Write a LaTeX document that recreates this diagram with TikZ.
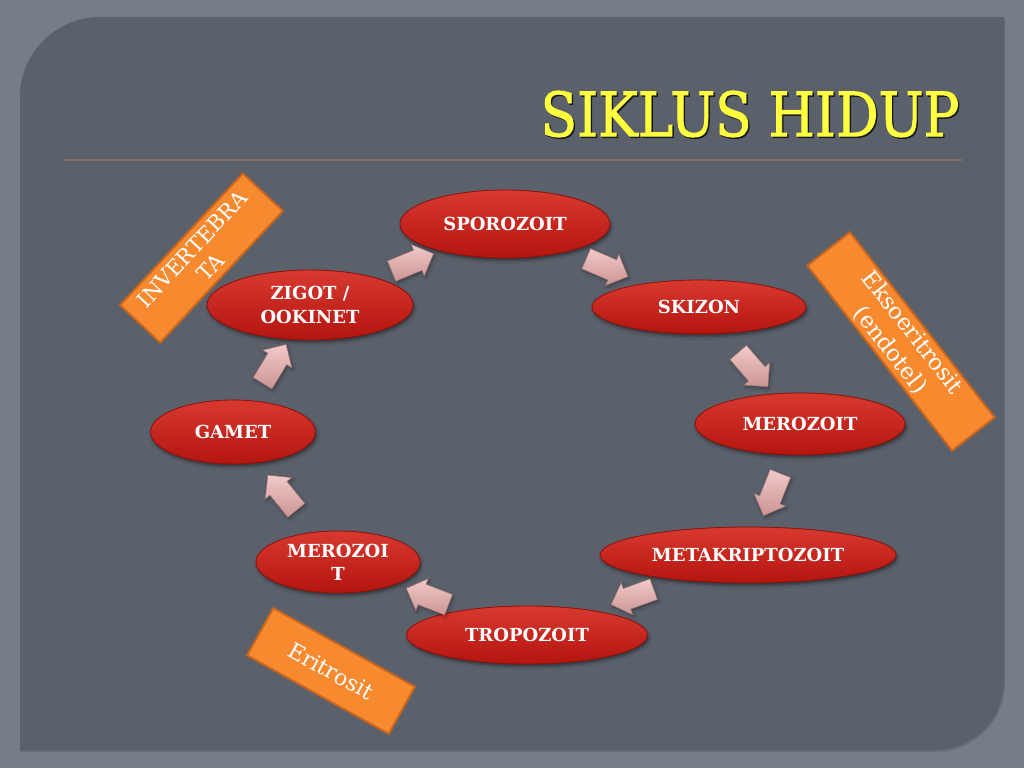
\documentclass[tikz,border=0pt]{standalone}
\usepackage{fontspec}
\setmainfont{DejaVu Serif}
\newfontfamily\titlefont[FakeBold=1.6]{DejaVu Serif}
\usepackage{graphicx}
\usetikzlibrary{shapes.geometric,shapes.arrows,calc,shadows.blur}
\definecolor{outerbg}{HTML}{767C88}
\definecolor{panelbg}{HTML}{5B616B}
\definecolor{rulec}{HTML}{8C6E62}
\definecolor{ellTop}{HTML}{D8392F}
\definecolor{ellBot}{HTML}{B3150F}
\definecolor{ellEdge}{HTML}{8E100C}
\definecolor{tagfill}{HTML}{F7892F}
\definecolor{tagedge}{HTML}{C8651E}
\definecolor{arrTop}{HTML}{F2CACA}
\definecolor{arrBot}{HTML}{CB9494}
\definecolor{arrEdge}{HTML}{A27474}
\definecolor{titley}{HTML}{FFFF40}
\begin{document}
\begin{tikzpicture}[x=0.75pt,y=-0.75pt,
  ell/.style 2 args={ellipse, minimum width=#1*0.75pt, minimum height=#2*0.75pt,
    inner sep=0pt, top color=ellTop, bottom color=ellBot, draw=ellEdge, line width=0.6pt,
    text=white, font=\bfseries\fontsize{13.5}{17.5}\selectfont, align=center,
    blur shadow={shadow xshift=1pt, shadow yshift=-2pt, shadow opacity=45}},
  tag/.style n args={4}{rectangle, minimum width=#1*0.75pt, minimum height=#2*0.75pt,
    fill=tagfill, draw=tagedge, line width=1.5pt, text=white,
    font=\fontsize{#3}{#4}\selectfont, align=center, inner sep=0pt},
  blk/.style={single arrow, minimum height=34pt, inner xsep=0pt, inner ysep=8pt,
    single arrow head extend=4.5pt, top color=arrTop, bottom color=arrBot,
    draw=arrEdge, line width=0.4pt,
    blur shadow={shadow xshift=1pt, shadow yshift=-1.5pt, shadow opacity=35}}
]
\useasboundingbox (0,0) rectangle (1024,768);
\fill[outerbg] (0,0) rectangle (1024,768);
% panel
\fill[black, opacity=0.12] (21,99) .. controls (21,55) and (57,19) .. (101,19) -- (1005,19) -- (1005,682)
  .. controls (1005,721) and (974,752) .. (935,752) -- (21,752) -- cycle;
\fill[panelbg] (20,97) .. controls (20,53) and (56,17) .. (100,17) -- (1004,17) -- (1004,680)
  .. controls (1004,719) and (973,750) .. (934,750) -- (20,750) -- cycle;
% title
\node[text=black, opacity=0.6] (titleshadow) at (751.5,115.5) {\resizebox{314pt}{34pt}{\titlefont\fontsize{40}{44}\selectfont SIKLUS HIDUP}};
\node[text=titley] (title) at (750,114) {\resizebox{314pt}{34pt}{\titlefont\fontsize{40}{44}\selectfont SIKLUS HIDUP}};
\coordinate (ruleL) at (65,160);
\coordinate (ruleR) at (962,160);
\draw[rulec, line width=1.8pt] (ruleL) -- (ruleR);
% ellipses
\node[ell={210}{68}] (spo) at (505,224) {SPOROZOIT};
\node[ell={214}{54}] (ski) at (699,307) {SKIZON};
\node[ell={210}{62}] (mer) at (800,424) {MEROZOIT};
\node[ell={296}{56}] (met) at (748,555) {METAKRIPTOZOIT};
\node[ell={241}{58}] (tro) at (527,635) {TROPOZOIT};
\node[ell={164}{62}] (mel) at (338,562) {MEROZOI\\T};
\node[ell={165}{64}] (gam) at (233,432) {GAMET};
\node[ell={206}{70}] (zig) at (310,305) {ZIGOT /\\OOKINET};
% block arrows
\foreach \fa/\fb/\fnm in {zig/spo/a1, spo/ski/a2, ski/mer/a3, mer/met/a4, met/tro/a5, tro/mel/a6, mel/gam/a7, gam/zig/a8}{
  \path let \p1=($(\fb)-(\fa)$), \n1={atan2(\y1,\x1)} in
    node[blk, rotate=\n1] (\fnm) at ($(\fa)!0.5!(\fb)$) {};
}
% orange tags
\node[tag={180}{55}{16}{19.5}, rotate=47] (inv) at (201.5,258) {INVERTEBRA\\TA};
\node[tag={235}{54}{17}{21}, rotate=-52] (eks) at (901,341.5) {Eksoeritrosit\\(endotel)};
\node[tag={162}{54}{16.5}{20}, rotate=-29] (eri) at (331,671) {Eritrosit};
\end{tikzpicture}
\end{document}
